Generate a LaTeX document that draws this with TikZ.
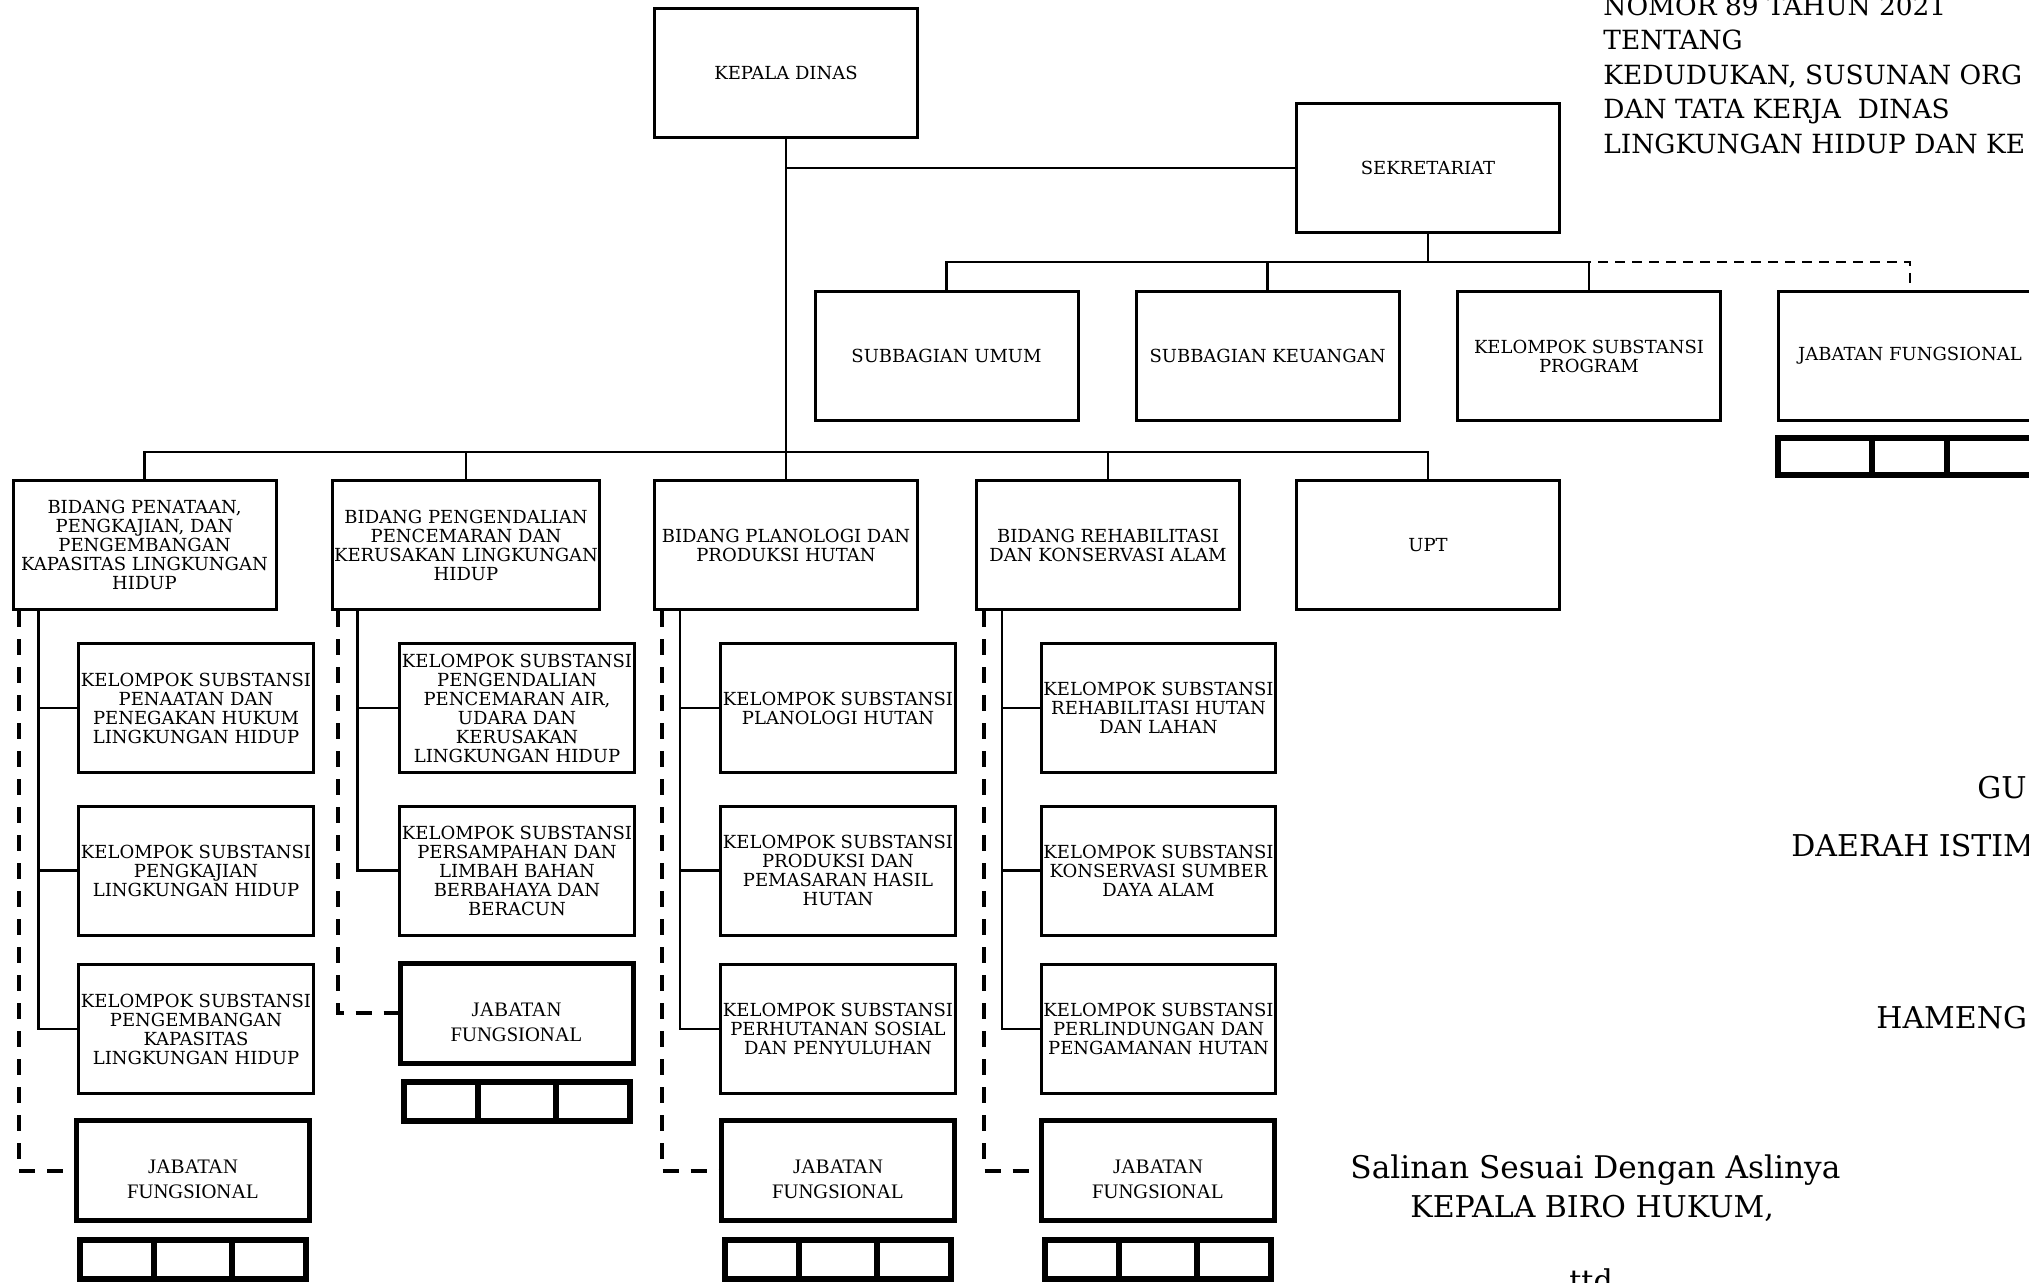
\documentclass[tikz,border=0pt]{standalone}
\usepackage{fontspec}
\setmainfont{DejaVu Serif}
\newfontfamily\tnrfont{Liberation Serif}
\usetikzlibrary{calc}
\begin{document}
\begin{tikzpicture}[x=0.5pt,y=-0.5pt,
  box/.style={draw, line width=1.5pt, minimum width=131.5pt, minimum height=64.5pt, inner sep=1pt, align=center, font=\fontsize{9}{9.5}\selectfont},
  subbox/.style={box, minimum width=116.5pt},
  jfbox/.style={draw, line width=2.5pt, minimum width=116.5pt, minimum height=50pt, inner sep=0pt},
  jftext/.style={align=center, inner sep=0pt, font=\tnrfont\fontsize{10.3}{12.5}\selectfont},
  cellrow/.style={draw, line width=3pt, minimum width=113pt, minimum height=19.5pt, inner sep=0pt},
  cellline/.style={line width=3pt},
  conn/.style={line width=1.4pt},
  dashline/.style={line width=2pt, dash pattern=on 8pt off 6pt},
  topdash/.style={line width=1.2pt, dash pattern=on 5pt off 3.5pt},
  rtext/.style={anchor=base west, inner sep=0pt, font=\fontsize{13.2}{15}\selectfont},
  btext/.style={anchor=base west, inner sep=0pt, font=\fontsize{15}{17}\selectfont}
]
\useasboundingbox (0,0) rectangle (2029,1283);
\coordinate (busy) at (0,452);
\coordinate (subbusy) at (0,262);

% top
\node[box] (kepala) at (786,73) {KEPALA DINAS};
\node[box] (sekret) at (1428,168) {SEKRETARIAT};
\node[box] (sumum) at (946.5,356) {SUBBAGIAN UMUM};
\node[box] (skeu) at (1267.5,356) {SUBBAGIAN KEUANGAN};
\node[box] (prog) at (1589,356) {KELOMPOK SUBSTANSI\\PROGRAM};
\node[box] (jfs) at (1910,356) {JABATAN FUNGSIONAL};
\node[draw, line width=3pt, minimum width=141pt, minimum height=18.5pt, inner sep=0pt] (cs) at (1919,456.5) {};
\draw[cellline] (cs.north -| 1872,0) -- (cs.south -| 1872,0);
\draw[cellline] (cs.north -| 1947,0) -- (cs.south -| 1947,0);

% bidang
\node[box] (b1) at (144.5,545) {BIDANG PENATAAN,\\PENGKAJIAN, DAN\\PENGEMBANGAN\\KAPASITAS LINGKUNGAN\\HIDUP};
\node[box] (b2) at (466,545) {BIDANG PENGENDALIAN\\PENCEMARAN DAN\\KERUSAKAN LINGKUNGAN\\HIDUP};
\node[box] (b3) at (786,545) {BIDANG PLANOLOGI DAN\\PRODUKSI HUTAN};
\node[box] (b4) at (1108,545) {BIDANG REHABILITASI\\DAN KONSERVASI ALAM};
\node[box] (upt) at (1428,545) {UPT};

% column 1
\node[subbox] (k11) at (196,708) {KELOMPOK SUBSTANSI\\PENAATAN DAN\\PENEGAKAN HUKUM\\LINGKUNGAN HIDUP};
\node[subbox] (k12) at (196,870.5) {KELOMPOK SUBSTANSI\\PENGKAJIAN\\LINGKUNGAN HIDUP};
\node[subbox] (k13) at (196,1029) {KELOMPOK SUBSTANSI\\PENGEMBANGAN\\KAPASITAS\\LINGKUNGAN HIDUP};
\node[jfbox] (j1) at (193,1170.5) {};
\node[jftext] (j1t) at ([yshift=-4.5pt]j1.center) {JABATAN\\FUNGSIONAL};
\node[cellrow] (c1) at (193,1259.5) {};

% column 2
\node[subbox] (k21) at (517,708) {KELOMPOK SUBSTANSI\\PENGENDALIAN\\PENCEMARAN AIR,\\UDARA DAN\\KERUSAKAN\\LINGKUNGAN HIDUP};
\node[subbox] (k22) at (517,870.5) {KELOMPOK SUBSTANSI\\PERSAMPAHAN DAN\\LIMBAH BAHAN\\BERBAHAYA DAN\\BERACUN};
\node[jfbox] (j2) at (516.5,1013) {};
\node[jftext] (j2t) at ([yshift=-4.5pt]j2.center) {JABATAN\\FUNGSIONAL};
\node[cellrow] (c2) at (517,1101.5) {};

% column 3
\node[subbox] (k31) at (838,708) {KELOMPOK SUBSTANSI\\PLANOLOGI HUTAN};
\node[subbox] (k32) at (838,870.5) {KELOMPOK SUBSTANSI\\PRODUKSI DAN\\PEMASARAN HASIL\\HUTAN};
\node[subbox] (k33) at (838,1029) {KELOMPOK SUBSTANSI\\PERHUTANAN SOSIAL\\DAN PENYULUHAN};
\node[jfbox] (j3) at (838,1170.5) {};
\node[jftext] (j3t) at ([yshift=-4.5pt]j3.center) {JABATAN\\FUNGSIONAL};
\node[cellrow] (c3) at (838,1259.5) {};

% column 4
\node[subbox] (k41) at (1158.5,708) {KELOMPOK SUBSTANSI\\REHABILITASI HUTAN\\DAN LAHAN};
\node[subbox] (k42) at (1158.5,870.5) {KELOMPOK SUBSTANSI\\KONSERVASI SUMBER\\DAYA ALAM};
\node[subbox] (k43) at (1158.5,1029) {KELOMPOK SUBSTANSI\\PERLINDUNGAN DAN\\PENGAMANAN HUTAN};
\node[jfbox] (j4) at (1158,1170.5) {};
\node[jftext] (j4t) at ([yshift=-4.5pt]j4.center) {JABATAN\\FUNGSIONAL};
\node[cellrow] (c4) at (1158,1259.5) {};

% cell dividers
\foreach \c in {c1,c2,c3,c4}{
  \draw[cellline] ($(\c.north west)!1/3!(\c.north east)$) -- ($(\c.south west)!1/3!(\c.south east)$);
  \draw[cellline] ($(\c.north west)!2/3!(\c.north east)$) -- ($(\c.south west)!2/3!(\c.south east)$);
}

% main connectors
\draw[conn] (kepala.south) -- (kepala.south |- busy);
\draw[conn] (kepala.south |- sekret.west) -- (sekret.west);
\draw[conn] (b1.north) -- (b1.north |- busy) -| (upt.north);
\draw[conn] (b2.north) -- (b2.north |- busy);
\draw[conn] (b3.north) -- (b3.north |- busy);
\draw[conn] (b4.north) -- (b4.north |- busy);

\draw[conn] (sekret.south) -- (sekret.south |- subbusy);
\draw[conn] (sumum.north) -- (sumum.north |- subbusy) -| (prog.north);
\draw[conn] (skeu.north) -- (skeu.north |- subbusy);
\draw[topdash] (sekret.south |- subbusy) -| ([yshift=3.5pt]jfs.north);

% column connectors
\draw[conn] ([xshift=13.5pt]b1.south west) coordinate (t1) |- (k13.west);
\draw[conn] (k11.west) -- (k11.west -| t1);
\draw[conn] (k12.west) -- (k12.west -| t1);
\draw[dashline] ([xshift=3.5pt]b1.south west) |- (j1.west);

\draw[conn] ([xshift=13.5pt]b2.south west) coordinate (t2) |- (k22.west);
\draw[conn] (k21.west) -- (k21.west -| t2);
\draw[dashline] ([xshift=3.5pt]b2.south west) |- (j2.west);

\draw[conn] ([xshift=13.5pt]b3.south west) coordinate (t3) |- (k33.west);
\draw[conn] (k31.west) -- (k31.west -| t3);
\draw[conn] (k32.west) -- (k32.west -| t3);
\draw[dashline] ([xshift=4.5pt]b3.south west) |- (j3.west);

\draw[conn] ([xshift=13.5pt]b4.south west) coordinate (t4) |- (k43.west);
\draw[conn] (k41.west) -- (k41.west -| t4);
\draw[conn] (k42.west) -- (k42.west -| t4);
\draw[dashline] ([xshift=4.5pt]b4.south west) |- (j4.west);

% right texts
\node[rtext] (r1) at (1603,16) {NOMOR 89 TAHUN 2021};
\node[rtext] (r2) at (1603,50) {TENTANG};
\node[rtext] (r3) at (1603,84.5) {KEDUDUKAN, SUSUNAN ORG};
\node[rtext] (r4) at (1603,119) {DAN TATA KERJA\ \ DINAS};
\node[rtext] (r5) at (1603,154) {LINGKUNGAN HIDUP DAN KE};

\node[btext] (g1) at (1977,798) {GU};
\node[btext] (g2) at (1791,856) {DAERAH ISTIM};
\node[btext] (g3) at (1876,1028) {HAMENG};
\node[btext, font=\fontsize{15.6}{17}\selectfont] (s1) at (1350,1178) {Salinan Sesuai Dengan Aslinya};
\node[btext] (s2) at (1410,1217) {KEPALA BIRO HUKUM,};
\node[btext] (s3) at (1569,1291) {ttd};
\end{tikzpicture}
\end{document}
